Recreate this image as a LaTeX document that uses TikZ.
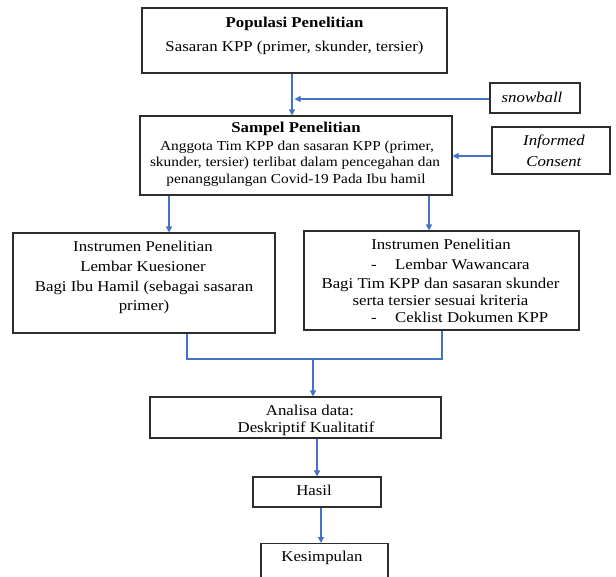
\documentclass[tikz,border=0pt]{standalone}
\usepackage{fontspec}
\setmainfont[FakeStretch=1.12]{Liberation Serif}
\usetikzlibrary{arrows.meta}
\definecolor{arrblue}{RGB}{68,114,196}
\definecolor{boxline}{RGB}{45,45,45}
\begin{document}
\begin{tikzpicture}[x=1pt,y=-1pt,
  box/.style={draw=boxline,line width=1.1pt,inner sep=0pt},
  txt/.style={font=\fontsize{15}{17}\selectfont,inner sep=0pt,anchor=base},
  smalltxt/.style={txt,font=\fontsize{13.7}{16}\selectfont},
  arr/.style={draw=arrblue,line width=1.3pt,-{Triangle[length=6pt,width=6pt]}},
  ln/.style={draw=arrblue,line width=1.3pt}]
\clip (0,0) rectangle (616,577);
\fill[white] (0,0) rectangle (616,577);

% boxes
\node[box,minimum width=305,minimum height=65] (pop) at (294.5,40.5) {};
\node[box,minimum width=90,minimum height=30] (snow) at (535,98) {};
\node[box,minimum width=312,minimum height=79] (sam) at (296,155.5) {};
\node[box,minimum width=118,minimum height=47] (inf) at (551,150.5) {};
\node[box,minimum width=262,minimum height=100] (li) at (144,283) {};
\node[box,minimum width=275,minimum height=99] (ri) at (441.5,280.5) {};
\node[box,minimum width=291,minimum height=41] (ana) at (295.5,417.5) {};
\node[box,minimum width=128,minimum height=30] (has) at (317,492) {};
\node[box,minimum width=127,minimum height=50,anchor=north] (kes) at (324.5,543) {};

% texts
\node[txt] (pop1) at (294.5,28) {\textbf{Populasi Penelitian}};
\node[txt] (pop2) at (294.5,52) {Sasaran KPP (primer, skunder, tersier)};
\node[txt] (snowt) at (532,103) {\textit{snowball}};
\node[txt] (sam1) at (296,133) {\textbf{Sampel Penelitian}};
\node[smalltxt] (sam2) at (297,151) {Anggota Tim KPP dan sasaran KPP (primer,};
\node[smalltxt] (sam3) at (295,167) {skunder, tersier) terlibat dalam pencegahan dan};
\node[smalltxt] (sam4) at (296,184) {penanggulangan Covid-19 Pada Ibu hamil};
\node[txt] (inf1) at (554,146) {\textit{Informed}};
\node[txt] (inf2) at (554,167) {\textit{Consent}};
\node[txt] (li1) at (143,252) {Instrumen Penelitian};
\node[txt] (li2) at (143,272) {Lembar Kuesioner};
\node[txt] (li3) at (144,292) {Bagi Ibu Hamil (sebagai sasaran};
\node[txt] (li4) at (144,311) {primer)};
\node[txt] (ri1) at (441,250) {Instrumen Penelitian};
\node[txt,anchor=base west] (ri2) at (371,270) {\makebox[24pt][l]{-}Lembar Wawancara};
\node[txt] (ri3) at (440.5,289) {Bagi Tim KPP dan sasaran skunder};
\node[txt] (ri4) at (440.5,306) {serta tersier sesuai kriteria};
\node[txt,anchor=base west] (ri5) at (371,323) {\makebox[24pt][l]{-}Ceklist Dokumen KPP};
\node[txt] (ana1) at (310,415) {Analisa data:};
\node[txt] (ana2) at (306,432) {Deskriptif Kualitatif};
\node[txt] (hast) at (314,495) {Hasil};
\node[txt] (kest) at (322,561) {Kesimpulan};

% connectors
\draw[arr] ([xshift=-2.5]pop.south) -- ([xshift=-2.5]pop.south |- sam.north);
\draw[arr] ([yshift=-1]snow.west) -- ([yshift=-1]pop.south |- snow.west);
\draw[arr] ([yshift=-5.5]inf.west) -- ([yshift=-5.5]inf.west -| sam.east);
\draw[arr] ([xshift=25]li.north |- sam.south) -- ([xshift=25]li.north);
\draw[arr] ([xshift=-12.5]ri.north |- sam.south) -- ([xshift=-12.5]ri.north);
\coordinate (m) at (313,359);
\draw[ln] ([xshift=43]li.south) |- (m) -| ([xshift=0.5]ri.south);
\draw[arr] (m) -- (m |- ana.north);
\draw[arr] (has.north |- ana.south) -- (has.north);
\draw[arr] ([xshift=-3.5]kes.north |- has.south) -- ([xshift=-3.5]kes.north);
\end{tikzpicture}
\end{document}
